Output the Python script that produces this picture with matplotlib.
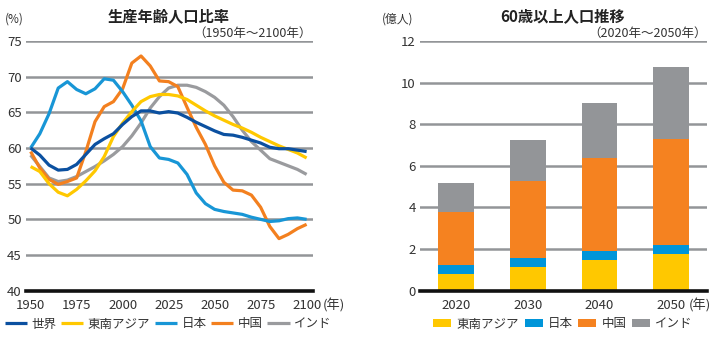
import matplotlib
matplotlib.use("Agg")
import matplotlib.pyplot as plt
import numpy as np

plt.rcParams['font.family'] = ['Noto Sans CJK JP', 'DejaVu Sans']

# 生産年齢人口比率 (%), 5年ごと 1950-2100
years = list(range(1950, 2101, 5))
world = [60.0, 59.0, 57.6, 56.9, 57.0, 57.7, 59.1, 60.5, 61.3, 62.0, 63.3, 64.4,
         65.2, 65.2, 64.9, 65.1, 64.9, 64.3, 63.6, 63.0, 62.4, 61.9, 61.8, 61.5,
         61.1, 60.7, 60.1, 59.9, 59.9, 59.7, 59.5]
se_asia = [57.4, 56.7, 55.0, 53.8, 53.3, 54.2, 55.4, 56.8, 58.8, 61.6, 63.5, 65.1,
           66.5, 67.2, 67.5, 67.5, 67.3, 66.8, 66.0, 65.2, 64.5, 63.9, 63.3, 62.8,
           62.2, 61.5, 60.9, 60.3, 59.8, 59.3, 58.6]
japan = [60.0, 62.0, 64.8, 68.4, 69.3, 68.2, 67.6, 68.3, 69.7, 69.5, 67.9, 66.0,
         63.8, 60.2, 58.6, 58.4, 57.9, 56.3, 53.7, 52.2, 51.4, 51.1, 50.9, 50.7,
         50.3, 50.0, 49.7, 49.8, 50.1, 50.2, 50.0]
china = [59.5, 57.2, 55.6, 54.9, 55.3, 55.8, 59.5, 63.7, 65.8, 66.5, 68.3, 71.9,
         72.9, 71.5, 69.4, 69.3, 68.6, 65.7, 62.9, 60.5, 57.5, 55.2, 54.1, 54.0,
         53.4, 51.7, 49.0, 47.3, 47.9, 48.7, 49.3]
india = [59.0, 57.4, 55.8, 55.3, 55.5, 56.0, 56.7, 57.4, 58.2, 59.1, 60.2, 61.7,
         63.5, 65.6, 67.2, 68.4, 68.8, 68.8, 68.5, 67.9, 67.1, 66.0, 64.4, 62.5,
         60.9, 59.7, 58.5, 58.0, 57.5, 57.0, 56.3]

# 60歳以上人口 (億人)
bar_years = ['2020', '2030', '2040', '2050']
bar_se_asia = [0.80, 1.14, 1.49, 1.76]
bar_japan = [0.44, 0.45, 0.43, 0.44]
bar_china = [2.56, 3.68, 4.47, 5.09]
bar_india = [1.38, 1.97, 2.63, 3.46]

c_world = '#0b50a0'
c_sea = '#ffc800'
c_jp = '#1896d6'
c_cn = '#f3801f'
c_in = '#9a9b9e'
grid_c = '#939598'
text_c = '#333333'

W, H = 723, 337
fig = plt.figure(figsize=(W / 100, H / 100), dpi=100)

def px(x, y):
    # ピクセル座標 (左上原点) を figure 座標に
    return x / W, 1 - y / H

def style_axes(ax):
    for s in ['top', 'right', 'left']:
        ax.spines[s].set_visible(False)
    ax.spines['bottom'].set_color('#111111')
    ax.spines['bottom'].set_linewidth(2.6)
    ax.yaxis.grid(True, color=grid_c, linewidth=1.8)
    ax.set_axisbelow(True)
    ax.tick_params(length=0, labelsize=9.5, colors=text_c)
    ax.tick_params(axis='y', pad=3)
    ax.tick_params(axis='x', pad=6)

# 左: 生産年齢人口比率
ax1 = fig.add_axes([0.036, 0.1374, 0.397, 0.741])
style_axes(ax1)
series = [(world, c_world, '世界'), (se_asia, c_sea, '東南アジア'),
          (japan, c_jp, '日本'), (china, c_cn, '中国'), (india, c_in, 'インド')]
for vals, col, lab in reversed(series):
    ax1.plot(years, vals, color=col, linewidth=2.3, label=lab, solid_capstyle='butt')
ax1.set_xlim(1947.5, 2103.5)
ax1.set_ylim(40, 75)
ax1.set_xticks(range(1950, 2101, 25))
ax1.set_yticks(range(40, 76, 5))
fig.text(*px(323, 305), '(年)', fontsize=9.5, color=text_c, ha='left', va='center')
fig.text(*px(169, 16), '生産年齢人口比率', ha='center', va='center',
         fontsize=11, fontweight='bold', color='#222222')
fig.text(*px(312, 33), '（1950年～2100年）', ha='right', va='center',
         fontsize=9, color=text_c)
fig.text(*px(5, 19), '(%)', fontsize=8.5, color=text_c, ha='left', va='center')
h, l = ax1.get_legend_handles_labels()
ax1.legend(h[::-1], l[::-1], loc='center', bbox_to_anchor=px(168, 324),
           bbox_transform=fig.transFigure, ncol=5, frameon=False, fontsize=9,
           handlelength=1.8, handletextpad=0.35, columnspacing=0.35,
           labelcolor=text_c, borderaxespad=0, borderpad=0)

# 右: 60歳以上人口推移
ax2 = fig.add_axes([0.581, 0.1374, 0.397, 0.741])
style_axes(ax2)
x = np.arange(len(bar_years))
bottom = np.zeros(len(bar_years))
for vals, col, lab in [(bar_se_asia, c_sea, '東南アジア'), (bar_japan, '#0095d9', '日本'),
                       (bar_china, '#f58220', '中国'), (bar_india, '#939598', 'インド')]:
    ax2.bar(x, vals, width=0.5, bottom=bottom, color=col, label=lab, zorder=2)
    bottom += np.array(vals)
ax2.set_xlim(-0.5, 3.5)
ax2.set_ylim(0, 12)
ax2.set_xticks(x)
ax2.set_xticklabels(bar_years)
ax2.set_yticks(range(0, 13, 2))
fig.text(*px(689, 305), '(年)', fontsize=9.5, color=text_c, ha='left', va='center')
fig.text(*px(563, 16), '60歳以上人口推移', ha='center', va='center',
         fontsize=11, fontweight='bold', color='#222222')
fig.text(*px(707, 33), '（2020年～2050年）', ha='right', va='center',
         fontsize=9, color=text_c)
fig.text(*px(382, 19), '(億人)', fontsize=8.5, color=text_c, ha='left', va='center')
ax2.legend(loc='center', bbox_to_anchor=px(563, 324), bbox_transform=fig.transFigure,
           ncol=4, frameon=False, fontsize=9, handlelength=1.45, handleheight=0.65,
           handletextpad=0.4, columnspacing=0.45, labelcolor=text_c,
           borderaxespad=0, borderpad=0)

fig.savefig('out.png', dpi=100)
